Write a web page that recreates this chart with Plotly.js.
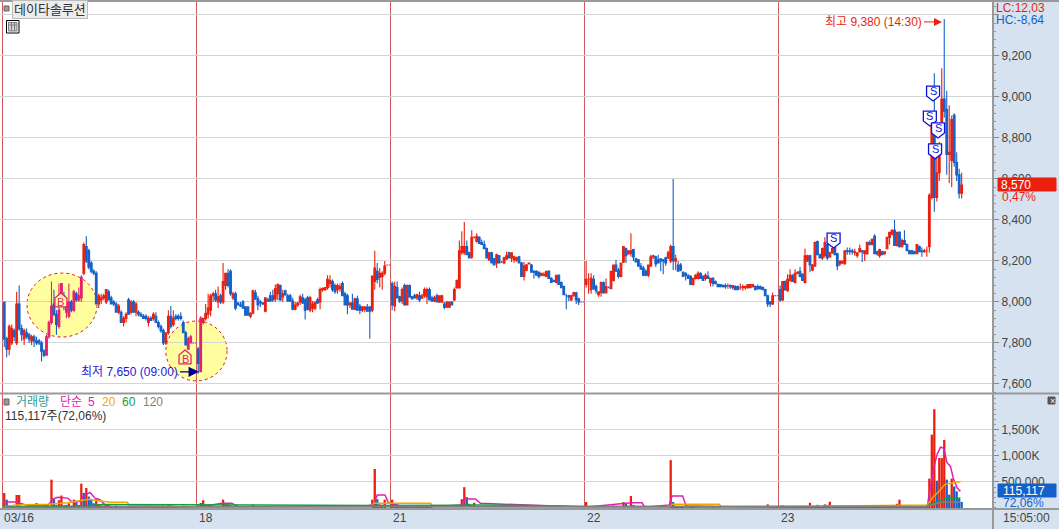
<!DOCTYPE html>
<html><head><meta charset="utf-8">
<script src="https://cdn.plot.ly/plotly-3.0.1.min.js"></script>
<style>html,body{margin:0;padding:0;background:#d6e2f0}#c{width:1059px;height:529px}</style>
</head><body><div id="c"></div>
<script>
// five-minute candles per session: [open, high, low, close]
const d16=[[8000,8000,7780,7820],[7820,7830,7730,7770],[7770,7890,7740,7880],[7800,7890,7790,7870],[7860,7870,7810,7830],[7800,8050,7790,7990],[7990,8080,7860,7870],[7870,7890,7810,7840],[7820,7870,7790,7860],[7850,7870,7820,7830],
[7840,7850,7800,7820],[7810,7840,7790,7830],[7830,7840,7780,7810],[7810,7830,7790,7800],[7810,7820,7790,7800],[7800,7810,7710,7760],[7760,7770,7730,7740],[7740,7840,7740,7830],[7830,7910,7820,7900],[7900,8100,7890,7980],
[7990,8060,7930,7940],[7940,7960,7840,7890],[7880,8090,7870,7960],[8040,8090,8000,8090],[8030,8050,7960,7980],[7950,8020,7920,8000],[7930,8090,7920,8000],[8000,8010,7950,7960],[7960,8060,7950,8050],[8040,8050,8000,8010],
[8010,8070,8000,8030],[8020,8130,8000,8120],[8140,8290,8130,8280],[8270,8320,8190,8200],[8250,8260,8160,8170],[8190,8200,8140,8150],[8150,8160,8130,8140],[8140,8150,7990,7990],[7990,8040,7970,8030],[8010,8040,7990,8020],
[8020,8040,8010,8030],[8000,8060,7990,8060],[8050,8060,8010,8010],[8020,8030,7990,7990],[8000,8010,7980,7990],[7990,8000,7950,7950],[7950,7990,7940,7980],[7950,7960,7900,7900],[7900,7930,7880,7920],[7920,7950,7900,7940],
[8010,8020,7940,7940],[7950,8010,7940,8000],[8000,8010,7950,7950],[7950,8000,7930,7990],[7950,7960,7930,7940],[7940,7950,7930,7930],[7930,7940,7920,7920],[7930,7940,7910,7920],[7900,7930,7880,7920],[7920,7930,7910,7910],
[7920,7950,7910,7940],[7930,7950,7900,7900],[7900,7910,7870,7880],[7880,7890,7850,7860],[7860,7870,7790,7800],[7800,7850,7790,7850],[7850,7960,7840,7930],[7930,7980,7870,7880],[7890,7960,7880,7920],[7930,7940,7910,7920],
[7930,7940,7910,7920],[7930,7950,7910,7920],[7900,7910,7850,7850],[7850,7860,7790,7790],[7770,7830,7770,7820],[7800,7840,7800,7830],[7800,7800,7800,7800],[7800,7800,7800,7800]];
const d18=[[7770,7780,7650,7700],[7660,7930,7660,7920],[7900,7920,7890,7920],[7920,7990,7910,7945],[7940,8040,7920,7970],[7960,8040,7930,8030],[8030,8050,8000,8040],[8040,8060,8000,8010],[8000,8075,7970,8025],[8030,8040,7990,8000],
[8000,8190,7990,8100],[8080,8140,8060,8140],[8140,8160,8070,8080],[8150,8160,8030,8040],[8020,8050,8010,8040],[8040,8050,7960,7970],[7995,8000,7985,7985],[7985,8000,7975,7980],[8000,8010,7970,7970],[7975,7980,7935,7935],
[7975,7980,7935,7935],[7930,7950,7920,7945],[7945,8060,7940,8055],[8045,8060,8010,8015],[8015,8030,7960,7985],[8000,8010,7975,7995],[7995,8000,7985,7990],[7955,8020,7950,8020],[8010,8020,8000,8005],[8030,8050,8000,8005],
[8030,8060,8000,8010],[8015,8085,8000,8065],[8040,8090,8010,8085],[8080,8085,8005,8010],[8025,8060,8000,8040],[8055,8060,8030,8035],[8030,8040,8000,8005],[8030,8040,8000,8005],[8005,8020,7960,7965],[7965,8000,7960,7985],
[7985,8000,7975,7995],[8000,8035,7985,8025],[8020,8040,7990,7995],[8010,8020,7915,7960],[8020,8030,7960,7965],[7960,8030,7950,8020],[7970,8005,7950,7990],[7970,8000,7960,8000],[8010,8020,7990,7995],[8000,8070,7965,8060],
[8060,8070,8050,8065],[8060,8070,8055,8070],[8070,8130,8060,8110],[8090,8130,8070,8105],[8100,8110,8050,8060],[8080,8090,8040,8050],[8060,8090,8040,8080],[8065,8090,8050,8075],[8090,8100,8030,8030],[8040,8050,7985,7985],
[8030,8040,7940,7985],[7985,8000,7970,7995],[7995,8040,7965,7965],[7965,8020,7960,8015],[8015,8030,7960,7960],[7980,7990,7940,7960],[7960,7980,7950,7975],[7965,7980,7950,7975],[7975,7990,7955,7955],[7975,7980,7820,7955],
[7960,8130,7950,8125],[8100,8250,8060,8165],[8150,8190,8090,8110],[8120,8165,8070,8140],[8125,8150,8060,8140],[8140,8200,8130,8175],[8180,8180,8180,8180],[8180,8180,8180,8180]];
const d21=[[8090,8100,7960,7985],[7980,8100,7955,8075],[8070,8100,8020,8020],[8025,8030,7995,8005],[8005,8070,7990,8060],[8080,8090,7985,7985],[7985,8085,7985,8080],[8080,8085,8020,8025],[8025,8030,8015,8015],[8030,8040,8020,8020],
[8020,8040,8010,8035],[8030,8050,8000,8010],[8020,8040,8015,8030],[8030,8070,8020,8060],[8025,8070,7990,8060],[8060,8070,8010,8010],[8020,8030,8000,8005],[8005,8030,8000,8020],[8030,8040,8000,8000],[8000,8030,7995,8030],
[8000,8035,7995,8030],[7990,8000,7965,7975],[7975,8005,7970,8000],[7975,8000,7970,8000],[8000,8005,7985,7985],[8010,8070,8005,8060],[8070,8110,8065,8105],[8070,8300,8065,8250],[8240,8345,8230,8270],[8240,8390,8230,8270],
[8270,8300,8230,8230],[8240,8245,8215,8215],[8220,8350,8210,8315],[8315,8320,8310,8315],[8295,8335,8290,8320],[8315,8320,8285,8285],[8290,8305,8280,8280],[8280,8300,8260,8260],[8260,8265,8215,8215],[8205,8245,8200,8240],
[8240,8245,8190,8190],[8210,8215,8180,8180],[8190,8235,8165,8230],[8225,8230,8190,8190],[8195,8200,8190,8195],[8190,8220,8185,8215],[8210,8245,8205,8225],[8240,8245,8215,8215],[8215,8240,8195,8240],[8205,8225,8190,8220],
[8205,8220,8195,8215],[8220,8225,8190,8190],[8190,8195,8125,8125],[8125,8195,8105,8175],[8155,8185,8150,8180],[8185,8190,8185,8190],[8180,8185,8145,8145],[8150,8155,8115,8145],[8150,8155,8130,8130],[8145,8150,8115,8125],
[8130,8140,8125,8140],[8130,8145,8125,8135],[8125,8150,8125,8150],[8150,8155,8115,8115],[8115,8120,8095,8095],[8105,8110,8100,8100],[8095,8130,8090,8130],[8130,8135,8085,8085],[8095,8100,8070,8070],[8075,8080,8035,8035],
[8030,8040,7965,8030],[8030,8035,8005,8025],[8010,8035,8005,8030],[8030,8050,8025,8045],[8045,8050,7990,8010],[8015,8020,7985,8000],[8000,8000,8000,8000],[8000,8000,8000,8000]];
const d22=[[8085,8200,8070,8110],[8110,8140,8040,8110],[8060,8140,8040,8115],[8110,8130,8060,8065],[8075,8085,8040,8055],[8035,8050,8025,8050],[8045,8100,8025,8095],[8095,8100,8040,8045],[8045,8115,8040,8075],[8070,8075,8070,8070],
[8065,8150,8065,8150],[8105,8180,8100,8180],[8180,8205,8150,8150],[8155,8165,8115,8125],[8125,8190,8120,8190],[8195,8270,8190,8270],[8260,8265,8190,8225],[8235,8250,8230,8250],[8235,8335,8220,8250],[8255,8260,8200,8220],
[8210,8215,8195,8195],[8205,8210,8170,8175],[8175,8190,8160,8160],[8165,8175,8125,8130],[8150,8160,8125,8130],[8130,8180,8120,8180],[8175,8230,8170,8220],[8220,8230,8210,8225],[8220,8225,8170,8185],[8205,8230,8190,8190],
[8210,8210,8150,8200],[8205,8210,8135,8200],[8215,8220,8175,8190],[8215,8250,8210,8240],[8200,8280,8190,8270],[8270,8600,8155,8200],[8200,8230,8155,8210],[8180,8200,8150,8150],[8180,8190,8150,8155],[8145,8150,8125,8125],
[8140,8145,8105,8130],[8130,8135,8115,8115],[8125,8130,8085,8085],[8085,8115,8080,8115],[8115,8135,8110,8130],[8115,8150,8110,8140],[8140,8145,8115,8115],[8125,8130,8105,8105],[8115,8140,8105,8130],[8125,8150,8115,8115],
[8095,8115,8075,8115],[8115,8120,8075,8090],[8100,8105,8085,8090],[8085,8090,8075,8075],[8085,8085,8075,8075],[8080,8085,8070,8075],[8080,8090,8065,8075],[8080,8090,8065,8080],[8080,8085,8065,8075],[8070,8080,8060,8080],
[8075,8080,8060,8060],[8075,8080,8060,8060],[8070,8090,8060,8070],[8070,8085,8055,8075],[8070,8080,8060,8075],[8070,8085,8065,8085],[8070,8085,8070,8085],[8075,8085,8070,8085],[8075,8080,8060,8060],[8075,8085,8060,8065],
[8075,8080,8060,8065],[8070,8075,8060,8060],[8060,8065,8030,8030],[8030,8035,7975,7990],[8000,8005,7975,7990],[7990,8045,7985,8030],[8030,8030,8030,8030],[8030,8030,8030,8030]];
const d23=[[8060,8080,8000,8010],[8010,8100,8005,8100],[8100,8105,8055,8060],[8055,8135,8050,8110],[8105,8160,8100,8130],[8130,8135,8100,8100],[8095,8160,8090,8140],[8140,8150,8135,8145],[8150,8170,8120,8125],[8135,8140,8105,8105],
[8095,8260,8090,8225],[8200,8230,8195,8225],[8225,8230,8145,8180],[8155,8185,8150,8180],[8175,8295,8170,8290],[8295,8300,8230,8230],[8230,8235,8215,8215],[8215,8265,8205,8260],[8225,8315,8215,8290],[8280,8285,8205,8215],
[8220,8245,8215,8240],[8240,8265,8235,8260],[8265,8270,8230,8230],[8235,8240,8155,8175],[8185,8200,8175,8200],[8190,8200,8185,8200],[8185,8250,8185,8250],[8250,8265,8230,8245],[8250,8265,8230,8245],[8250,8260,8230,8245],
[8240,8260,8225,8245],[8225,8240,8215,8240],[8245,8280,8240,8260],[8250,8255,8195,8245],[8235,8250,8200,8250],[8235,8295,8230,8290],[8290,8300,8275,8280],[8280,8310,8275,8305],[8320,8330,8235,8235],[8245,8250,8225,8235],
[8225,8260,8215,8255],[8245,8250,8230,8230],[8235,8245,8230,8245],[8260,8315,8260,8315],[8315,8340,8280,8340],[8330,8355,8325,8350],[8350,8400,8275,8275],[8275,8340,8270,8340],[8340,8345,8265,8270],[8270,8310,8265,8300],
[8300,8350,8280,8280],[8280,8285,8250,8250],[8250,8255,8235,8235],[8250,8255,8235,8235],[8245,8250,8235,8235],[8235,8280,8235,8280],[8270,8275,8245,8245],[8250,8265,8220,8245],[8245,8260,8240,8250],[8250,8270,8220,8250],
[8270,8530,8240,8520],[8510,8870,8500,8860],[8870,9115,8440,8510],[8510,8710,8490,8630],[8630,8780,8590,8760],[8880,9140,8870,8990],[8990,9380,8900,8930],[8940,9030,8620,8720],[8720,8960,8580,8730],[8690,8910,8560,8890],
[8910,8920,8660,8680],[8680,8730,8590,8620],[8620,8650,8505,8530],[8530,8630,8505,8570]];
// volume in thousand shares: negative numbers are the blue bars
const v16=[288,-160,50,40,-30,250,250,-45,30,-35,-25,30,25,95,-30,-40,-35,60,40,545,-170,-60,150,240,-50,60,90,-40,160,-140,60,470,-290,385,-220,-170,-90,180,-70,50,40,60,-40,-30,-30,-45,25,-35,20,25,-40,30,-30,25,-20,-25,-20,-20,25,-15,20,-30,-35,-30,-55,40,75,-50,45,-20,-20,-20,-45,-40,30,25,10,10];
const v18=[-50,96,150,60,50,40,-30,-30,30,-25,160,80,-60,-50,25,-40,-20,-20,-25,-30,-25,20,60,-30,-30,-20,-15,35,-15,-20,-25,30,30,-40,20,-20,-20,-20,-25,20,20,30,-20,-35,-25,30,25,25,-20,50,20,15,40,40,-30,-20,15,20,-35,-40,-30,-15,-30,25,-35,-25,20,20,-30,-35,160,750,-170,70,60,160,10,10];
const v21=[160,70,-60,-40,30,-40,40,-30,-15,-20,20,-20,15,30,30,-30,-15,15,-20,20,20,-20,20,15,-15,40,30,60,170,400,-210,-80,60,100,25,-30,-25,-20,-25,15,-25,-20,20,-15,-15,20,15,-15,15,15,10,-15,-25,20,15,10,-15,-15,-15,-15,10,10,15,-15,-10,-10,15,-20,-15,-25,-10,-15,15,15,-15,-10,-5,-5];
const v22=[115,40,30,-30,-20,15,25,-20,20,-5,30,50,-40,-30,30,115,-90,40,230,-60,-30,-25,-20,-25,-20,25,20,15,-20,-20,-15,-15,-20,20,920,-115,40,-30,-25,-20,-15,-15,-25,20,15,15,-15,-10,15,-10,15,-15,-10,-10,-5,-5,-5,-5,-5,10,-10,-5,5,5,5,10,10,10,-10,-10,-5,-10,-20,70,-20,40,5,5];
const v23=[-40,50,-20,25,25,-15,15,10,-15,-15,30,15,100,15,20,-60,-15,15,70,-60,120,30,-25,-30,15,10,20,-5,-5,-5,5,10,15,-5,10,20,-10,15,-20,-10,15,-10,10,40,25,20,-40,80,160,20,-30,-20,-10,-10,-10,30,-25,-20,10,15,565,1410,1900,-525,960,960,1310,-545,-256,565,-415,-320,-180,-115];
// moving averages of volume, read at the turning points of each line
const ma5X=[0,5,10,18,20,22,26,28,31,32,35,37,39,41,44,60,78,88,92,95,120,140,149,150.5,153.6,155,160,167,184,186,190,192,234,252.5,257,258,268,269,273.3,274.7,300,371.6,373,374.3,375.6,377,378.3,379.6,381,382.3,383.7,385];
const ma5Y=[115,115,50,40,170,205,190,110,130,220,300,190,160,60,20,10,10,90,90,15,10,10,60,250,250,100,40,10,60,175,175,90,15,100,100,15,60,230,230,40,10,10,420,770,1030,1170,1150,870,800,545,385,320];
const ma20X=[0,5,18,26,32,34.6,40,43,50,50.5,78,148,149,172,173,268,269,288,289,371.6,374.3,376,378.7,381,383,385];
const ma20Y=[20,60,70,100,150,170,130,110,110,60,15,15,90,90,15,15,70,70,15,60,225,300,450,480,500,500];
const ma60X=[0,33,40,78,150,184,190,220,234,371,373,376,378.5,385];
const ma60Y=[20,40,65,55,50,55,57,45,30,30,65,120,175,190];
const ma120X=[0,100,140,371,374,377.3,385];
const ma120Y=[15,25,30,30,70,110,115];
// trade signals: session-wide candle position and price at the tip
const buyX=[23.3,73.2], buyY=[8044,7766];
const sellX=[334,374,372.7,376,374.8], sellY=[8263,8980,8858,8800,8698];
const dayStarts=[0,78,156,234,312];
const dayLabels=['03/16','18','21','22','23'];
const priceTicks=[7600,7800,8000,8200,8400,8600,8800,9000,9200,9400];
const priceLabels=['7,600','7,800','8,000','8,200','8,400','8,600','8,800','9,000','9,200',''];
const volTicks=[500,1000,1500], volLabels=['500,000','1,000K','1,500K'];
const pinkRanges=[[17,31],[74,79]];

const RED='#ea1f0e',BLUE='#1560c8',PINK='#e6206e',GRID='#d4d4d4',TXT='#444444';
const FONT='"Liberation Sans","Noto Sans CJK KR",sans-serif';
const days=[d16,d18,d21,d22,d23],vols=[v16,v18,v21,v22,v23];
const cn={x:[],o:[],h:[],l:[],c:[]},cp={x:[],o:[],h:[],l:[],c:[]},vx=[],vy=[],vc=[];
days.forEach((d,k)=>d.forEach((q,i)=>{
  const g=dayStarts[k]+i;
  const t=pinkRanges.some(r=>g>=r[0]&&g<=r[1])?cp:cn;
  t.x.push(g+.5);t.o.push(q[0]);t.h.push(q[1]);t.l.push(q[2]);t.c.push(q[3]);
}));
vols.forEach((d,k)=>d.forEach((v,i)=>{vx.push(dayStarts[k]+i+.5);vy.push(Math.abs(v));vc.push(v<0?BLUE:RED);}));
const candle=(s,up)=>({type:'candlestick',x:s.x,open:s.o,high:s.h,low:s.l,close:s.c,xaxis:'x',yaxis:'y',
  increasing:{line:{color:up,width:1.1},fillcolor:up},decreasing:{line:{color:BLUE,width:1.1},fillcolor:BLUE},
  whiskerwidth:0,hoverinfo:'skip',showlegend:false});
const maLine=(x,y,c)=>({type:'scatter',mode:'lines',x:x,y:y,xaxis:'x2',yaxis:'y2',line:{color:c,width:1.5},hoverinfo:'skip',showlegend:false});
const traces=[candle(cn,RED),candle(cp,PINK),
 {type:'bar',x:vx,y:vy,xaxis:'x2',yaxis:'y2',marker:{color:vc,line:{width:0}},hoverinfo:'skip',showlegend:false},
 maLine(ma5X,ma5Y,'#e020b0'),maLine(ma20X,ma20Y,'#f0a800'),maLine(ma60X,ma60Y,'#10a040'),maLine(ma120X,ma120Y,'#808080'),
];
const px=x=>x/992, py=y=>(508-y)/506;
const note=(x,y,text,color,size,extra)=>Object.assign({xref:'paper',yref:'paper',x:px(x),y:py(y),text:text,showarrow:false,xanchor:'left',yanchor:'middle',
  font:{family:FONT,size:size||12,color:color},borderpad:0},extra||{});
const rect=(x0,y0,x1,y1,fill,line)=>({type:'rect',xref:'paper',yref:'paper',x0:px(x0),x1:px(x1),y0:py(y0),y1:py(y1),fillcolor:fill,line:{color:line||fill,width:1}});
const seg=(x0,y0,x1,y1,c,w)=>({type:'line',xref:'paper',yref:'paper',x0:px(x0),x1:px(x1),y0:py(y0),y1:py(y1),line:{color:c,width:w||1}});
const ell=(x0,x1,y0,y1)=>({type:'circle',xref:'x',yref:'y',x0:x0,x1:x1,y0:y0,y1:y1,layer:'below',fillcolor:'#ffffa0',line:{color:'#e81010',width:1,dash:'dot'}});
const sign=(x,y,path,fill,line)=>({type:'path',xref:'x',yref:'y',xsizemode:'pixel',ysizemode:'pixel',xanchor:x,yanchor:y,path:path,fillcolor:fill,line:{color:line,width:1.3}});
const SHIELD='M0,0 L-6.5,5 L-6.5,15 L6.5,15 L6.5,5 Z', HOME='M0,0 L-6,-5 L-6,-14 L6,-14 L6,-5 Z';
const shapes=[ell(9.65,37.8,7829,8141),ell(65.5,90.1,7615,7907),
 ...buyX.map((x,i)=>sign(x,buyY[i],HOME,'#ffffa0',PINK)),
 ...sellX.map((x,i)=>sign(x,sellY[i],SHIELD,'#ffffff','#1010e0')),
 seg(0,1,1059,1,'#999999',2),seg(993,0,993,529,'#999999',2),seg(0,393.5,1059,393.5,'#999999',2),seg(0,509,1059,509,'#999999',2),
 rect(4,6,9,11,'#999999','#666666'),
 rect(6.5,20.5,19,33,'#ffffff','#000000'),rect(8.5,22.5,17,31,'#d0d0d0','#808080'),seg(8.5,25,17,25,'#808080'),seg(11.5,22.5,11.5,31,'#808080'),seg(14.5,22.5,14.5,31,'#808080'),
 rect(4,399,9,405,'#999999','#666666'),
 rect(1048,397,1055,404,'#555555'),
 rect(998,178,1056,191,RED),rect(998,484,1056,497,BLUE),
];
const tag=(x,y,t,c)=>({xref:'x',yref:'y',x:x,y:y,text:t,showarrow:false,xanchor:'center',yanchor:'middle',font:{family:FONT,size:11,color:c}});
const annotations=[
 ...buyX.map((x,i)=>tag(x,buyY[i]-44,'B',PINK)),
 ...sellX.map((x,i)=>tag(x,sellY[i]+47,'S','#1010e0')),
 ...dayLabels.map((t,i)=>({xref:'x2',yref:'paper',x:dayStarts[i],y:py(518),text:t,showarrow:false,xanchor:'left',yanchor:'middle',xshift:i?1:0,font:{family:FONT,size:12,color:TXT},borderpad:0})),
 note(12,9,'데이타솔루션','#333333',13,{bgcolor:'#ececec',bordercolor:'#bbbbbb',borderwidth:1,borderpad:1}),
 note(995,8,'LC:12,03',RED,12),note(995,20,'HC:-8,64',BLUE,12),
 note(1000,184.5,'8,570','#ffffff',12),note(1001,197,'0,47%',RED,12),
 note(1002,490.5,'115,117','#ffffff',12),note(1002,503,'72,06%',BLUE,12),
 note(1002,518,'15:05:00',TXT,12),
 note(15,402,'거래량','#2e9a9a',12),note(59,402,'단순','#e020b0',12),note(87,402,'5','#e020b0',12),note(101,402,'20','#f0a800',12),note(121,402,'60','#10a040',12),note(142,402,'120','#808080',12),
 note(4,416,'115,117주(72,06%)','#333333',12),
 note(1049,400.5,'×','#ffffff',9),
 {xref:'x',yref:'y',x:377.6,y:9366,text:'최고 9,380 (14:30)',showarrow:true,axref:'pixel',ayref:'pixel',ax:-18,ay:0,xanchor:'right',arrowhead:2,arrowsize:1.6,arrowwidth:1,arrowcolor:RED,standoff:0,font:{family:FONT,size:12,color:RED}},
 {xref:'x',yref:'y',x:78.8,y:7659,text:'최저 7,650 (09:00)',showarrow:true,axref:'pixel',ayref:'pixel',ax:-19,ay:0,xanchor:'right',arrowhead:2,arrowsize:1.6,arrowwidth:1.3,arrowcolor:'#000090',standoff:0,font:{family:FONT,size:12,color:'#1a1ad8'}},
];
const xBase={range:[-1.2,397.7],tickmode:'array',tickvals:dayStarts,showticklabels:false,showgrid:true,gridcolor:'#d25a5a',gridwidth:1,zeroline:false,ticks:'',showline:false,rangeslider:{visible:false},fixedrange:true};
const layout={width:1059,height:529,margin:{l:0,r:67,t:2,b:21,autoexpand:false},paper_bgcolor:'#d6e2f0',plot_bgcolor:'#ffffff',
 boxmode:'overlay',boxgap:0.02,bargap:0.08,showlegend:false,font:{family:FONT,size:12,color:TXT},
 xaxis:Object.assign({},xBase,{domain:[0,1],anchor:'y'}),
 xaxis2:Object.assign({},xBase,{domain:[0,1],anchor:'y2'}),
 yaxis:{domain:[0.2273,1],anchor:'x',side:'right',range:[7556,9463],tickmode:'array',tickvals:priceTicks,ticktext:priceLabels,gridcolor:GRID,gridwidth:1,zeroline:false,ticks:'outside',ticklen:6,tickcolor:'#888888',
   minor:{tick0:7600,dtick:40,ticks:'outside',ticklen:3,tickcolor:'#999999',showgrid:false},tickfont:{family:FONT,size:12,color:TXT},fixedrange:true},
 yaxis2:{domain:[0,0.2253],anchor:'x2',side:'right',range:[0,2192],tickmode:'array',tickvals:volTicks,ticktext:volLabels,gridcolor:GRID,gridwidth:1,zeroline:false,ticks:'outside',ticklen:6,tickcolor:'#888888',
   minor:{tick0:0,dtick:100,ticks:'outside',ticklen:3,tickcolor:'#999999',showgrid:false},tickfont:{family:FONT,size:12,color:TXT},fixedrange:true},
 shapes:shapes,annotations:annotations};
Plotly.newPlot('c',traces,layout,{displayModeBar:false,staticPlot:true});
</script></body></html>
